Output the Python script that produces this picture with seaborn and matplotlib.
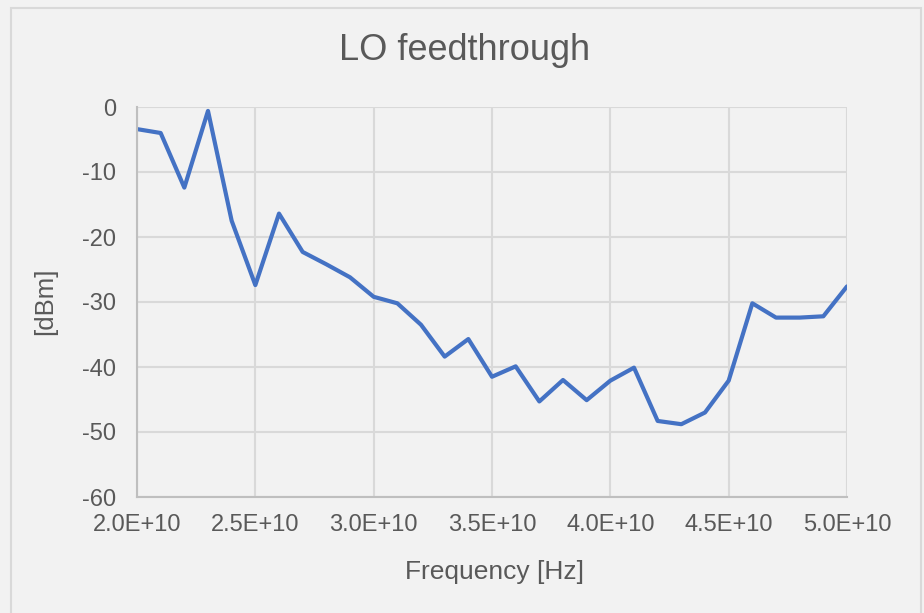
import matplotlib
matplotlib.use("Agg")
import matplotlib.pyplot as plt
import seaborn as sns
import pandas as pd
from matplotlib.ticker import FuncFormatter, MultipleLocator
from matplotlib.patches import Rectangle

# Data
freq_hz = [2.0e10, 2.1e10, 2.2e10, 2.3e10, 2.4e10, 2.5e10, 2.6e10, 2.7e10, 2.8e10, 2.9e10,
           3.0e10, 3.1e10, 3.2e10, 3.3e10, 3.4e10, 3.5e10, 3.6e10, 3.7e10, 3.8e10, 3.9e10,
           4.0e10, 4.1e10, 4.2e10, 4.3e10, 4.4e10, 4.5e10, 4.6e10, 4.7e10, 4.8e10, 4.9e10,
           5.0e10]
level_dbm = [-3.4, -4.0, -12.4, -0.6, -17.5, -27.4, -16.4, -22.3, -24.2, -26.2,
             -29.2, -30.2, -33.5, -38.4, -35.7, -41.5, -39.9, -45.3, -42.0, -45.1,
             -42.1, -40.1, -48.3, -48.8, -47.0, -42.1, -30.2, -32.4, -32.4, -32.2,
             -27.6]
title = "LO feedthrough"
x_label = "Frequency [Hz]"
y_label = "[dBm]"

df = pd.DataFrame({"freq": freq_hz, "dbm": level_dbm})

BG = "#f2f2f2"
TXT = "#595959"
GRID = "#d9d9d9"

sns.set_style("whitegrid", {"axes.facecolor": BG, "figure.facecolor": BG,
                            "grid.color": GRID, "axes.edgecolor": "#bfbfbf"})
plt.rcParams["font.family"] = ["Liberation Sans", "DejaVu Sans"]

fig = plt.figure(figsize=(9.24, 6.13), dpi=100)
fig.patch.set_facecolor(BG)
W, H = 924, 613
ax = fig.add_axes([137 / W, 1 - 497 / H, (847 - 137) / W, (497 - 107) / H])
ax.set_facecolor(BG)

sns.lineplot(data=df, x="freq", y="dbm", ax=ax, color="#4472C4", linewidth=3.0)

ax.set_xlim(2.0e10, 5.0e10)
ax.set_ylim(-60, 0)
ax.xaxis.set_major_locator(MultipleLocator(5e9))
ax.yaxis.set_major_locator(MultipleLocator(10))
ax.xaxis.set_major_formatter(FuncFormatter(lambda v, p: f"{v:.1E}"))
ax.yaxis.set_major_formatter(FuncFormatter(lambda v, p: f"{v:.0f}"))
ax.grid(True, color=GRID, linewidth=1.5)
for s in ["top", "right"]:
    ax.spines[s].set_visible(False)
for s in ["left", "bottom"]:
    ax.spines[s].set_color("#bfbfbf")
    ax.spines[s].set_linewidth(1.5)
ax.tick_params(axis="both", length=0, labelsize=17, labelcolor=TXT)
ax.tick_params(axis="x", pad=12)
ax.tick_params(axis="y", pad=15)
ax.xaxis.get_offset_text().set_visible(False)

ax.set_xlabel("")
ax.set_ylabel("")
fig.text(494.5 / W, 1 - 572 / H, x_label, ha="center", va="center", fontsize=19, color=TXT)
fig.text(45 / W, 1 - 301 / H, y_label, ha="center", va="center", rotation=90, fontsize=18.5, color=TXT)
fig.text(465 / W, 1 - 51 / H, title, ha="center", va="center", fontsize=26, color=TXT)

# outer chart border
fig.patches.append(Rectangle((11 / W, -0.01), (921 - 11) / W, 1 - 8 / H + 0.01,
                             transform=fig.transFigure, fill=False,
                             edgecolor="#d9d9d9", linewidth=1.5))

fig.savefig("out.png", dpi=100, facecolor=BG)
